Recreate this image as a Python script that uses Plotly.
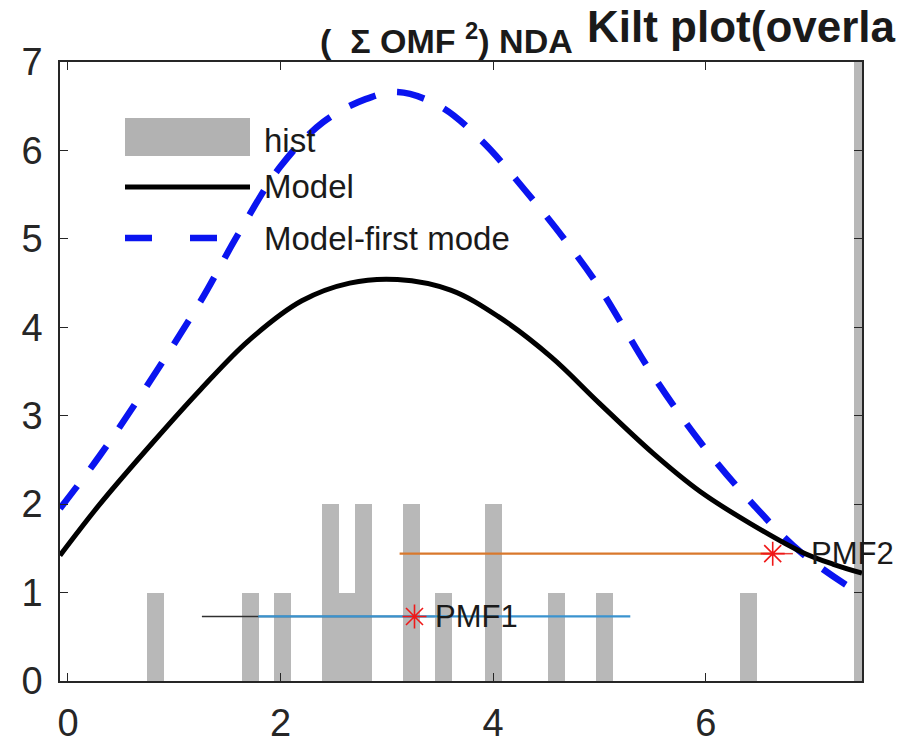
import plotly.graph_objects as go

# ---------------- data ----------------
hist_x = [0.82, 1.72, 2.02, 2.47, 2.62, 2.78, 3.23, 3.53, 4.00, 4.60, 5.05, 6.40, 7.47]
hist_counts = [1, 1, 1, 2, 1, 2, 2, 1, 2, 1, 1, 1, 9]

model_x = [-0.075, 0.3, 0.8, 1.25, 1.7, 2.2, 2.65, 3.1, 3.6, 4.05, 4.55, 5.0, 5.5, 5.95, 6.42, 6.9, 7.2, 7.47]
model_y = [1.42, 2.0, 2.7, 3.3, 3.85, 4.3, 4.5, 4.54, 4.42, 4.12, 3.66, 3.14, 2.58, 2.14, 1.78, 1.46, 1.32, 1.22]

first_x = [-0.075, 0.3, 0.75, 1.25, 1.6, 2.0, 2.4, 2.8, 3.1, 3.5, 3.9, 4.3, 4.7, 5.0, 5.48, 5.95, 6.42, 6.9, 7.47]
first_y = [1.95, 2.55, 3.35, 4.3, 5.05, 5.82, 6.32, 6.58, 6.66, 6.5, 6.1, 5.55, 4.95, 4.45, 3.5, 2.7, 2.03, 1.45, 0.97]

pmf_names = ["PMF1", "PMF2"]
pmf_x = [3.26, 6.63]
pmf_y = [0.73, 1.44]
pmf1_black_span = [1.26, 3.45]
pmf1_blue_span = [1.79, 5.29]
pmf2_orange_span = [3.12, 6.63]
pmf2_red_span = [6.54, 6.82]

legend_labels = ["hist", "Model", "Model-first mode"]
x_ticks = [0, 2, 4, 6]
y_ticks = [0, 1, 2, 3, 4, 5, 6, 7]
title_small = "<b>(  Σ OMF <sup>2</sup>) NDA</b>"
title_big = "<b>Kilt plot(overla</b>"

FONT = "Liberation Sans, Arial, Helvetica, sans-serif"
OFF = 8  # page body margin offset of the plot div
W, H = 906 - OFF, 746 - OFF
# target plot area on screen: x 60..862, y 62..681
L, T = 60 - OFF, 62 - OFF
R, B = W - (862 - OFF), H - (681 - OFF)
PW, PH = W - L - R, H - T - B


def px2paper(px, py):
    return (px - OFF - L) / PW, 1 - (py - OFF - T) / PH


fig = go.Figure()

fig.add_trace(go.Bar(x=hist_x, y=hist_counts, width=0.16,
                     marker=dict(color="#b2b2b2", line=dict(width=0)),
                     opacity=0.92, name=legend_labels[0], showlegend=False))

# PMF interval lines
fig.add_trace(go.Scatter(x=pmf1_black_span, y=[pmf_y[0]] * 2, mode="lines",
                         line=dict(color="#303030", width=1.5), showlegend=False))
fig.add_trace(go.Scatter(x=pmf1_blue_span, y=[pmf_y[0]] * 2, mode="lines",
                         line=dict(color="#3a93cf", width=2.2), showlegend=False))
fig.add_trace(go.Scatter(x=pmf2_orange_span, y=[pmf_y[1]] * 2, mode="lines",
                         line=dict(color="#d9782c", width=2.2), showlegend=False))
fig.add_trace(go.Scatter(x=pmf2_red_span, y=[pmf_y[1]] * 2, mode="lines",
                         line=dict(color="#e8403a", width=1.5), showlegend=False))

fig.add_trace(go.Scatter(x=first_x, y=first_y, mode="lines", line_shape="spline",
                         line=dict(color="#0a14f0", width=6.5, dash="28px,22px"),
                         name=legend_labels[2], showlegend=False))
fig.add_trace(go.Scatter(x=model_x, y=model_y, mode="lines", line_shape="spline",
                         line=dict(color="#000000", width=5),
                         name=legend_labels[1], showlegend=False))

fig.add_trace(go.Scatter(x=pmf_x, y=pmf_y, mode="markers",
                         marker=dict(symbol="asterisk-open", size=20, color="#f01818",
                                     line=dict(color="#f01818", width=1.6)),
                         showlegend=False))

annotations = []
label_shift = [0.17, 0.34]
for n, xx, yy, dx in zip(pmf_names, pmf_x, pmf_y, label_shift):
    annotations.append(dict(x=xx + dx, y=yy, xref="x", yref="y", text=n, showarrow=False,
                            xanchor="left", yanchor="middle",
                            font=dict(family=FONT, size=31, color="#1a1a1a")))

# manual legend (MATLAB style, long symbols)
shapes = []
x0, y0 = px2paper(125, 118)
x1, y1 = px2paper(250, 156)
shapes.append(dict(type="rect", xref="paper", yref="paper", x0=x0, x1=x1, y0=y1, y1=y0,
                   fillcolor="#b2b2b2", line=dict(width=0), layer="above"))
lx0, ly = px2paper(125, 187)
lx1, _ = px2paper(250, 187)
shapes.append(dict(type="line", xref="paper", yref="paper", x0=lx0, x1=lx1, y0=ly, y1=ly,
                   line=dict(color="#000000", width=5), layer="above"))
_, ly2 = px2paper(125, 238)
shapes.append(dict(type="line", xref="paper", yref="paper", x0=lx0, x1=lx1, y0=ly2, y1=ly2,
                   line=dict(color="#0a14f0", width=6.5, dash="27px,38px"), layer="above"))

tx, _ = px2paper(262, 0)
for lab, py in zip(legend_labels, [140, 186, 238]):
    _, ty = px2paper(0, py)
    annotations.append(dict(x=tx, y=ty, xref="paper", yref="paper", text=lab, showarrow=False,
                            xanchor="left", yanchor="middle",
                            font=dict(family=FONT, size=33, color="#1a1a1a")))

# title pieces
sx, sy = px2paper(318, 38)
annotations.append(dict(x=sx, y=sy, xref="paper", yref="paper", text=title_small, showarrow=False,
                        xanchor="left", yanchor="middle",
                        font=dict(family=FONT, size=34, color="#1a1a1a")))
bx, by = px2paper(585, 27)
annotations.append(dict(x=bx, y=by, xref="paper", yref="paper", text=title_big, showarrow=False,
                        xanchor="left", yanchor="middle",
                        font=dict(family=FONT, size=44, color="#1a1a1a")))

axis_common = dict(showline=True, linecolor="#262626", linewidth=1.5, mirror="ticks",
                   ticks="inside", ticklen=8, tickwidth=1.2, tickcolor="#262626",
                   showgrid=False, zeroline=False, automargin=False,
                   tickfont=dict(family=FONT, size=38, color="#262626"))

fig.update_layout(
    width=W, height=H,
    margin=dict(l=L, r=R, t=T, b=B),
    paper_bgcolor="white", plot_bgcolor="white",
    showlegend=False, bargap=0, barmode="overlay",
    xaxis=dict(range=[-0.075, 7.47], tickvals=x_ticks, ticklabelstandoff=8, **axis_common),
    yaxis=dict(range=[0, 7], tickvals=y_ticks, ticklabelstandoff=8, **axis_common),
    shapes=shapes, annotations=annotations,
)

fig.write_html("out.html")
